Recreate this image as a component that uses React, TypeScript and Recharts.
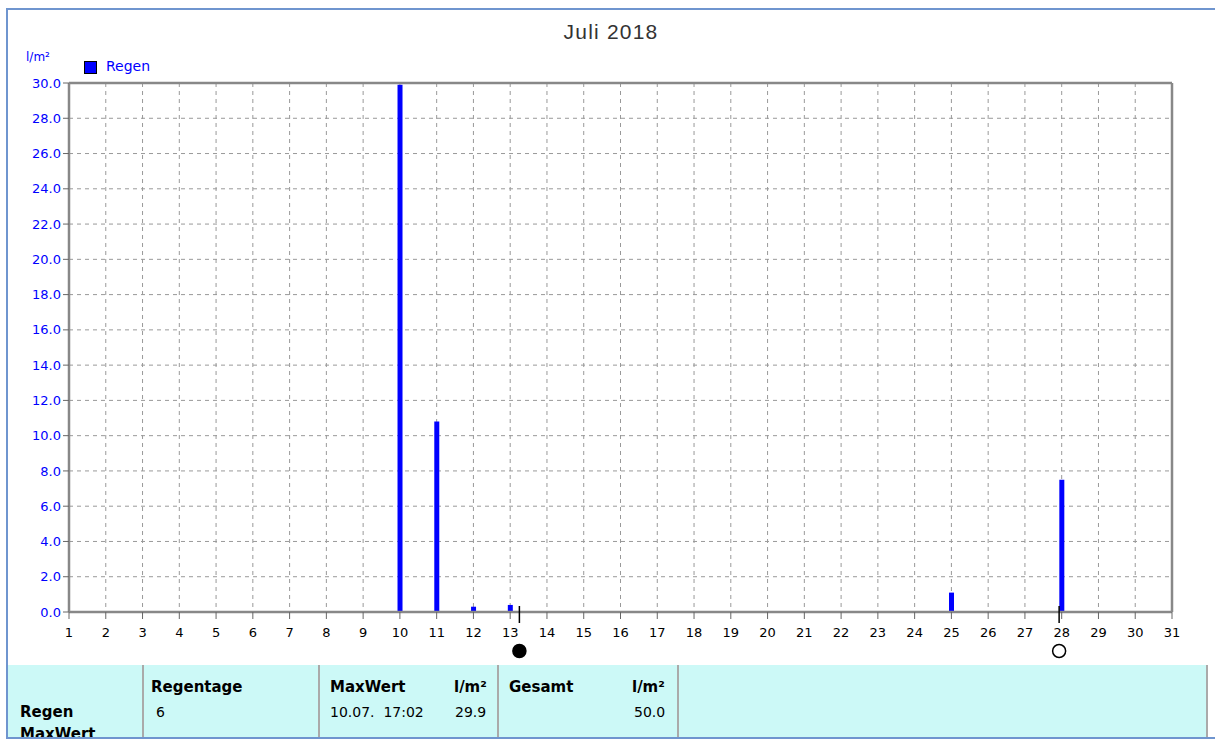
import React from 'react';
import { BarChart, Bar, XAxis, YAxis, CartesianGrid, ReferenceLine, ReferenceDot } from 'recharts';

// Tagesniederschlag Juli 2018 (l/m²)
const days = Array.from({ length: 31 }, (_, i) => i + 1);
const rain = [
  0, 0, 0, 0, 0, 0, 0, 0, 0, 29.9,
  10.8, 0.3, 0.4, 0, 0, 0, 0, 0, 0, 0,
  0, 0, 0, 0, 1.1, 0, 0, 7.5, 0, 0, 0,
];
const yTicks = [0, 2, 4, 6, 8, 10, 12, 14, 16, 18, 20, 22, 24, 26, 28, 30];
// Mondphasen: Neumond 13.07., Vollmond 27.07. (abends)
const moonNew = [13.25];
const moonFull = [27.93];

const data = days.map((d, i) => ({ day: d, regen: rain[i] }));

const font = '"DejaVu Sans", Arial, sans-serif';
const frame = '#6f95cf';

const MoonMark = (filled: boolean) => (props: any) => {
  const { cx, cy } = props;
  return (
    <g>
      <line x1={cx} x2={cx} y1={cy - 6} y2={cy + 11} stroke="#000" strokeWidth={1.5} />
      <circle cx={cx} cy={cy + 39} r={6.5} fill={filled ? '#000' : '#fff'} stroke="#000" strokeWidth={1.5} />
    </g>
  );
};

const cell = (left: number, top: number, text: string, bold = false) => (
  <div
    style={{
      position: 'absolute',
      left,
      top,
      fontFamily: font,
      fontSize: bold ? 15 : 14,
      fontWeight: bold ? 700 : 400,
      color: '#000',
      whiteSpace: 'pre',
      lineHeight: '18px',
    }}
  >
    {text}
  </div>
);

export default function App() {
  return (
    <div style={{ position: 'fixed', left: 0, top: 0, width: 1215, height: 740, background: '#fff', overflow: 'hidden' }}>
      <div style={{ position: 'absolute', left: 0, top: 20, width: 1222, textAlign: 'center', fontFamily: 'Arial, "Liberation Sans", sans-serif', fontSize: 21, letterSpacing: 1.2, color: '#333' }}>
        Juli 2018
      </div>
      <div style={{ position: 'absolute', left: 26, top: 50, fontFamily: font, fontSize: 12, color: '#0000ff' }}>l/m²</div>
      <div style={{ position: 'absolute', left: 84, top: 61, width: 11, height: 11, background: '#0000ff', border: '1px solid #000' }} />
      <div style={{ position: 'absolute', left: 106, top: 58, fontFamily: font, fontSize: 14, color: '#0000ff' }}>Regen</div>

      <div style={{ position: 'absolute', left: 0, top: 0 }}>
        <BarChart width={1215} height={740} data={data} margin={{ top: 83, right: 43, bottom: 98, left: 9 }}>
          <CartesianGrid stroke="#999" strokeDasharray="4 4" strokeWidth={1} />
          <XAxis
            dataKey="day"
            type="number"
            domain={[1, 31]}
            ticks={days}
            interval={0}
            height={30}
            axisLine={{ stroke: '#888', strokeWidth: 2.5 }}
            tickLine={{ stroke: '#666' }}
            tickSize={7}
            tickMargin={9}
            tick={{ fill: '#000', fontFamily: font, fontSize: 13 }}
          />
          <YAxis
            type="number"
            domain={[0, 30]}
            ticks={yTicks}
            interval={0}
            width={60}
            axisLine={{ stroke: '#888', strokeWidth: 2.5 }}
            tickLine={{ stroke: '#666' }}
            tickSize={6}
            tickMargin={2}
            tickFormatter={(v: number) => v.toFixed(1)}
            tick={{ fill: '#0000ff', fontFamily: font, fontSize: 13 }}
          />
          <ReferenceLine x={31} stroke="#888" strokeWidth={2.5} />
          <ReferenceLine y={30} stroke="#888" strokeWidth={2.5} />
          <Bar dataKey="regen" fill="#0000ff" barSize={5} isAnimationActive={false} />
          {moonNew.map((d) => (
            <ReferenceDot key={`n${d}`} x={d} y={0} ifOverflow="visible" shape={MoonMark(true)} />
          ))}
          {moonFull.map((d) => (
            <ReferenceDot key={`f${d}`} x={d} y={0} ifOverflow="visible" shape={MoonMark(false)} />
          ))}
        </BarChart>
      </div>

      {/* Tabelle */}
      <div style={{ position: 'absolute', left: 8, top: 665, width: 1198, height: 72, background: '#ccf9f7', borderRight: '2px solid #aaa', overflow: 'hidden' }}>
        {[134, 310, 489, 669].map((x) => (
          <div key={x} style={{ position: 'absolute', left: x, top: 0, width: 2, height: 72, background: '#aaa' }} />
        ))}
        {cell(12, 38, 'Regen', true)}
        {cell(12, 60, 'MaxWert', true)}
        {cell(143, 13, 'Regentage', true)}
        {cell(148, 38, '6')}
        {cell(322, 13, 'MaxWert', true)}
        {cell(446, 13, 'l/m²', true)}
        {cell(322, 38, '10.07.  17:02')}
        {cell(447, 38, '29.9')}
        {cell(501, 13, 'Gesamt', true)}
        {cell(624, 13, 'l/m²', true)}
        {cell(626, 38, '50.0')}
      </div>

      {/* Rahmen */}
      <div style={{ position: 'absolute', left: 6, top: 8, width: 1209, height: 2, background: frame }} />
      <div style={{ position: 'absolute', left: 6, top: 8, width: 2, height: 730, background: frame }} />
      <div style={{ position: 'absolute', left: 6, top: 737, width: 1209, height: 2, background: frame }} />
    </div>
  );
}
